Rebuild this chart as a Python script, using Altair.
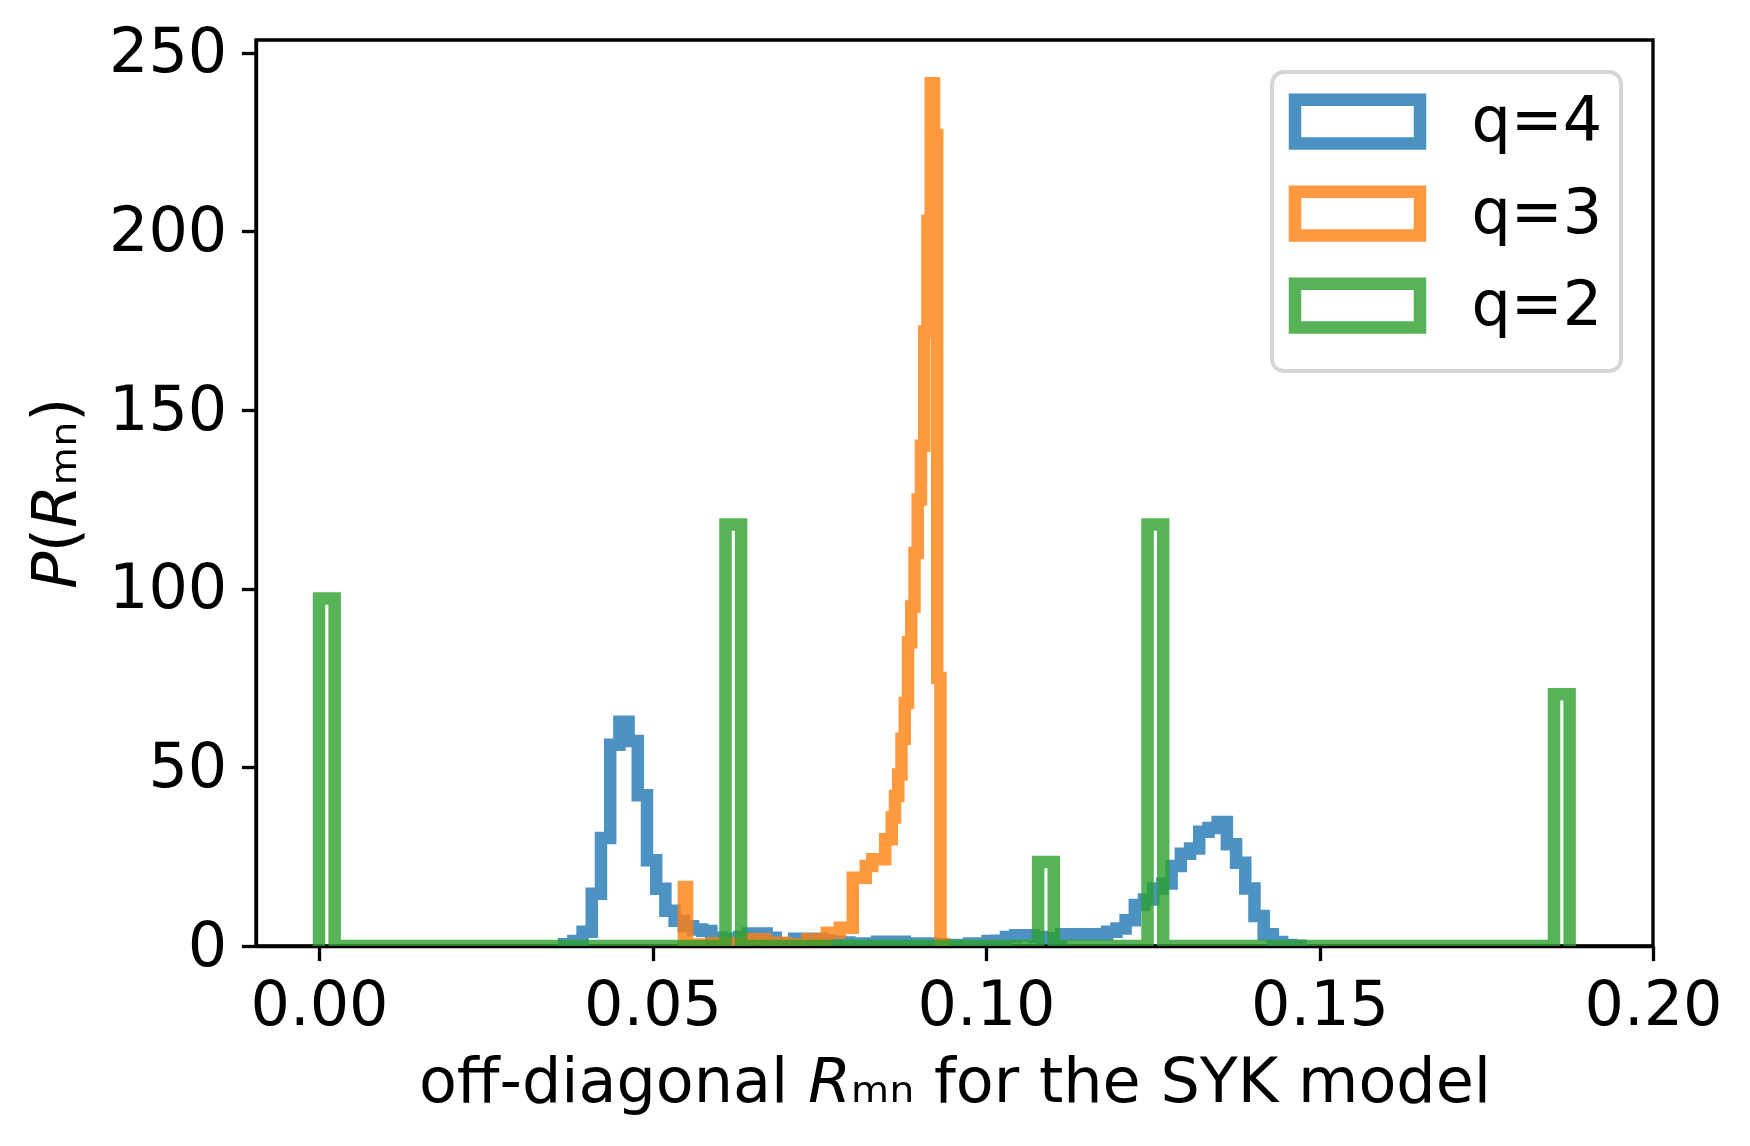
import altair as alt
import pandas as pd

SERIES = ["q=4", "q=3", "q=2"]
COLORS = ["#1f77b4", "#ff7f0e", "#2ca02c"]

# histogram bins: first edge and bin width of each series (80 bins each)
Q4_FIRST_EDGE, Q4_BIN_WIDTH = 0.03675, 0.00138
Q3_FIRST_EDGE, Q3_BIN_WIDTH = 0.0547, 0.000487
Q2_FIRST_EDGE, Q2_BIN_WIDTH = 0.0, 0.00234375

# densities per bin
q4_density = [
    0.5, 1.4, 4.0, 14.6, 30.2, 56.3, 62.8, 57.4, 42.2, 24.0,
    16.0, 9.9, 7.1, 5.5, 4.6, 4.2, 2.3, 2.0, 1.8, 2.5,
    3.5, 3.5, 2.3, 0.8, 0.8, 2.0, 2.0, 2.0, 1.5, 1.2,
    1.0, 0.7, 0.7, 0.7, 1.2, 1.2, 1.2, 0.7, 0.7, 0.7,
    0.5, 0.3, 0.3, 0.3, 0.7, 0.7, 1.4, 1.5, 2.5, 3.0,
    3.0, 2.5, 2.2, 2.2, 3.3, 3.3, 3.3, 3.3, 3.3, 4.0,
    4.9, 7.2, 11.5, 13.0, 16.1, 17.5, 22.4, 25.8, 27.3, 32.0,
    33.0, 34.7, 28.5, 23.3, 16.1, 8.4, 3.3, 1.1, 0.3, 0.1,
]
q3_density = [
    16.5, 0.4, 0.4, 0.4, 0.4, 0.4, 0.4, 0.4, 0.4, 0.75,
    0.75, 0.75, 0.75, 0.75, 0.75, 0.6, 0.6, 0.6, 0.6, 0.6,
    1.9, 1.9, 1.9, 1.9, 1.9, 0.9, 0.9, 0.9, 0.9, 0.9,
    0.9, 0.5, 0.5, 0.5, 0.5, 0.5, 0.5, 0.5, 1.9, 1.9,
    1.9, 1.9, 1.9, 1.9, 3.7, 3.7, 3.7, 3.7, 5.1, 5.1,
    5.1, 5.1, 19.1, 19.1, 19.1, 19.1, 22.4, 22.4, 24.3, 24.3,
    24.3, 24.3, 29.9, 29.9, 36.0, 42.0, 48.0, 58.0, 68.0, 85.0,
    95.0, 110.0, 125.0, 140.0, 172.0, 203.0, 241.5, 227.0, 75.0, 0.5,
]
q2_density = [
    97.3, 0, 0, 0, 0, 0, 0, 0, 0, 0,
    0, 0, 0, 0, 0, 0, 0, 0, 0, 0,
    0, 0, 0, 0, 0, 0, 118.0, 0, 0, 0,
    0, 0, 0, 0, 0, 0, 0, 0, 0, 0,
    0, 0, 0, 0, 0, 0, 23.5, 0, 0, 0,
    0, 0, 0, 118.0, 0, 0, 0, 0, 0, 0,
    0, 0, 0, 0, 0, 0, 0, 0, 0, 0,
    0, 0, 0, 0, 0, 0, 0, 0, 0, 70.5,
]

X_TICKS = [0.0, 0.05, 0.10, 0.15, 0.20]
Y_TICKS = [0, 50, 100, 150, 200, 250]
X_LIMITS = [-0.00945, 0.20]
Y_LIMITS = [0, 253.6]


def outline(name, first_edge, width, dens):
    rows = [{"series": name, "x": first_edge, "y": 0.0, "order": 0}]
    for k, d in enumerate(dens):
        rows.append({"series": name, "x": first_edge + k * width, "y": float(d), "order": k + 1})
    rows.append({"series": name, "x": first_edge + len(dens) * width, "y": 0.0,
                 "order": len(dens) + 1})
    return pd.DataFrame(rows)


frames = [
    outline("q=4", Q4_FIRST_EDGE, Q4_BIN_WIDTH, q4_density),
    outline("q=3", Q3_FIRST_EDGE, Q3_BIN_WIDTH, q3_density),
    outline("q=2", Q2_FIRST_EDGE, Q2_BIN_WIDTH, q2_density),
]

FONT = "DejaVu Sans"
FS = 62
LW = 3.33

x_enc = alt.X(
    "x:Q",
    scale=alt.Scale(domain=X_LIMITS, nice=False, zero=False),
    axis=alt.Axis(values=X_TICKS, format=".2f", labelFlush=False, labelOverlap=False,
                  title="off-diagonal 𝘙ₘₙ for the SYK model", titlePadding=16),
)
y_enc = alt.Y(
    "y:Q",
    scale=alt.Scale(domain=Y_LIMITS, nice=False),
    axis=alt.Axis(values=Y_TICKS, format="d", labelOverlap=False,
                  title="𝘗(𝘙ₘₙ)", titlePadding=20),
)
color_enc = alt.Color(
    "series:N",
    scale=alt.Scale(domain=SERIES, range=COLORS),
    legend=alt.Legend(title=None, orient="top-right", offset=32,
                      labelExpr="datum.label + '\u2009'"),
)

layers = []
for df in frames:
    layers.append(
        alt.Chart(df)
        .mark_line(interpolate="step-after", strokeWidth=12.5, strokeOpacity=0.8,
                   clip=True, strokeJoin="miter", strokeCap="butt")
        .encode(x=x_enc, y=y_enc, color=color_enc, order="order:Q")
    )

chart = (
    alt.layer(*layers)
    .properties(
        width=1397,
        height=906,
        autosize=alt.AutoSizeParams(type="none"),
        padding={"left": 248, "top": 32, "right": 89, "bottom": 192},
        background="white",
    )
    .configure(font=FONT)
    .configure_view(stroke="black", strokeWidth=LW)
    .configure_axis(
        labelFont=FONT, labelFontSize=FS, labelColor="black",
        titleFont=FONT, titleFontSize=FS, titleFontWeight="normal", titleColor="black",
        tickSize=14.6, tickWidth=LW, tickColor="black",
        domainWidth=LW, domainColor="black",
        labelPadding=14.6, grid=False, zindex=1,
    )
    .configure_legend(
        labelFont=FONT, labelFontSize=FS, labelColor="black",
        symbolType="M-2.857,-1L2.857,-1L2.857,1L-2.857,1Z",
        symbolSize=1914, symbolStrokeWidth=12.5, symbolOpacity=0.8,
        symbolFillColor="transparent",
        symbolOffset=36, labelOffset=83,
        padding=18.5, rowPadding=-2,
        strokeColor="#d6d6d6", strokeWidth=4, cornerRadius=12, fillColor="white",
    )
)

chart.save("out.html", embed_options={"renderer": "svg", "actions": False})
